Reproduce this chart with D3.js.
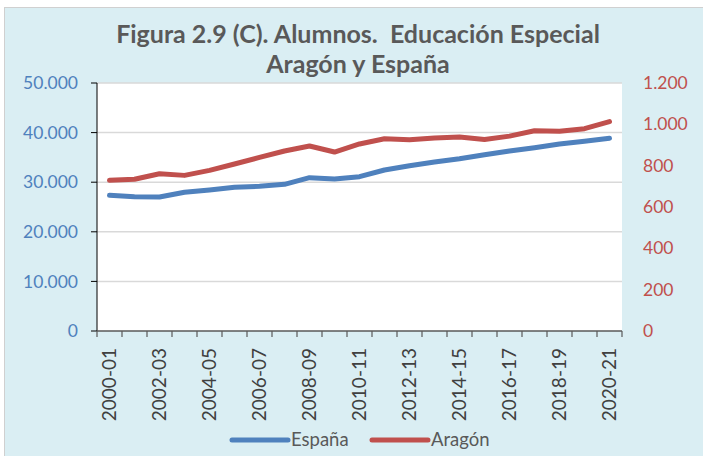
<!doctype html>
<html>
  <head>
    <meta charset="utf-8">
    <title>Alumnos Educación Especial</title>
    <style>
      body { margin: 0; background: #fff; }
      svg { display: block; }
      text { font-family: "Lato", "Open Sans", sans-serif; }
    </style>
  </head>
  <body>
    <div id="chart"></div>
    <script src="https://d3js.org/d3.v7.min.js"></script>
    <script>
      var categories = ["2000-01", "2001-02", "2002-03", "2003-04", "2004-05", "2005-06", "2006-07",
        "2007-08", "2008-09", "2009-10", "2010-11", "2011-12", "2012-13", "2013-14", "2014-15",
        "2015-16", "2016-17", "2017-18", "2018-19", "2019-20", "2020-21"];
      var espana = [27360, 27080, 27020, 27960, 28430, 28970, 29170, 29570, 30910, 30650, 31110,
        32460, 33330, 34070, 34740, 35550, 36290, 36960, 37700, 38250, 38850];
      var aragon = [729, 734, 761, 753, 777, 808, 840, 871, 895, 866, 905,
        930, 925, 934, 939, 927, 943, 969, 966, 979, 1013];
      var leftTicks = [0, 10000, 20000, 30000, 40000, 50000];
      var rightTicks = [0, 200, 400, 600, 800, 1000, 1200];
      var titleLines = ["Figura 2.9 (C). Alumnos.\u00a0 Educación Especial", "Aragón y España"];
      var seriesNames = ["España", "Aragón"];

      var width = 703, height = 456;
      var plot = { left: 97, right: 622, top: 83, bottom: 331 };
      var blue = "#4F81BD", red = "#C0504D";

      var es = d3.formatLocale({ decimal: ",", thousands: ".", grouping: [3], currency: ["", "€"] });
      var fmt = es.format(",");

      var svg = d3.select("#chart").append("svg")
        .attr("width", width)
        .attr("height", height);

      // outer frame
      svg.append("rect").attr("x", 4.5).attr("y", 7.5).attr("width", width - 4).attr("height", height - 7)
        .attr("fill", "#DAEEF3").attr("stroke", "#D0D0D0");

      svg.append("rect")
        .attr("x", plot.left).attr("y", plot.top)
        .attr("width", plot.right - plot.left).attr("height", plot.bottom - plot.top)
        .attr("fill", "#fff");

      var x = d3.scaleBand().domain(categories).range([plot.left, plot.right]);
      var yL = d3.scaleLinear().domain([0, 50000]).range([plot.bottom, plot.top]);
      var yR = d3.scaleLinear().domain([0, 1200]).range([plot.bottom, plot.top]);

      // gridlines
      svg.append("g").selectAll("line")
        .data(leftTicks.filter(function(d) { return d > 0; }))
        .enter().append("line")
        .attr("x1", plot.left).attr("x2", plot.right)
        .attr("y1", function(d) { return yL(d); }).attr("y2", function(d) { return yL(d); })
        .attr("stroke", "#D9D9D9").attr("stroke-width", 1.5);

      // left axis
      var gl = svg.append("g");
      gl.append("line").attr("x1", plot.left).attr("x2", plot.left)
        .attr("y1", plot.top).attr("y2", plot.bottom).attr("stroke", "#000").attr("stroke-width", 1);
      gl.selectAll(".tk").data(leftTicks).enter().append("line")
        .attr("x1", plot.left - 6).attr("x2", plot.left)
        .attr("y1", function(d) { return yL(d); }).attr("y2", function(d) { return yL(d); })
        .attr("stroke", "#000");
      gl.selectAll("text").data(leftTicks).enter().append("text")
        .attr("x", 78).attr("y", function(d) { return yL(d); })
        .attr("dy", "0.35em").attr("text-anchor", "end")
        .attr("font-size", 17.5).attr("fill", blue)
        .text(function(d) { return fmt(d); });

      // right axis labels
      svg.append("g").selectAll("text").data(rightTicks).enter().append("text")
        .attr("x", 643).attr("y", function(d) { return yR(d); })
        .attr("dy", "0.35em").attr("text-anchor", "start")
        .attr("font-size", 17.5).attr("fill", red)
        .text(function(d) { return fmt(d); });

      // x axis
      var gx = svg.append("g");
      gx.append("line").attr("x1", plot.left).attr("x2", plot.right)
        .attr("y1", plot.bottom).attr("y2", plot.bottom).attr("stroke", "#595959").attr("stroke-width", 1.5);
      var tickPos = categories.map(function(c) { return x(c); }).concat([plot.right]);
      gx.selectAll(".tk").data(tickPos).enter().append("line")
        .attr("x1", function(d) { return d; }).attr("x2", function(d) { return d; })
        .attr("y1", plot.bottom).attr("y2", plot.bottom + 6)
        .attr("stroke", "#595959").attr("stroke-width", 1.2);
      gx.selectAll("text").data(categories.filter(function(c, i) { return i % 2 === 0; }))
        .enter().append("text")
        .attr("transform", function(d) {
          return "translate(" + (x(d) + x.bandwidth() / 2) + "," + (plot.bottom + 17) + ") rotate(-90)";
        })
        .attr("dy", "0.35em").attr("text-anchor", "end")
        .attr("font-size", 19).attr("fill", "#404040")
        .text(function(d) { return d; });

      // lines
      var cx = function(d, i) { return x(categories[i]) + x.bandwidth() / 2; };
      svg.append("path").datum(espana)
        .attr("fill", "none").attr("stroke", blue).attr("stroke-width", 5)
        .attr("stroke-linecap", "round").attr("stroke-linejoin", "round")
        .attr("d", d3.line().x(cx).y(function(d) { return yL(d); }));
      svg.append("path").datum(aragon)
        .attr("fill", "none").attr("stroke", red).attr("stroke-width", 5)
        .attr("stroke-linecap", "round").attr("stroke-linejoin", "round")
        .attr("d", d3.line().x(cx).y(function(d) { return yR(d); }));

      // title
      svg.append("g").selectAll("text").data(titleLines).enter().append("text")
        .attr("x", 358).attr("y", function(d, i) { return 43 + i * 30; })
        .attr("text-anchor", "middle").attr("font-size", 25).attr("font-weight", "bold")
        .attr("fill", "#595959")
        .text(function(d) { return d; });

      // legend
      var legend = svg.append("g");
      var legX = [232, 372];
      [blue, red].forEach(function(col, i) {
        legend.append("line").attr("x1", legX[i]).attr("x2", legX[i] + 56)
          .attr("y1", 440).attr("y2", 440)
          .attr("stroke", col).attr("stroke-width", 5).attr("stroke-linecap", "round");
        legend.append("text").attr("x", legX[i] + 59).attr("y", 440).attr("dy", "0.35em")
          .attr("font-size", 18.5).attr("fill", "#595959").text(seriesNames[i]);
      });
    </script>
  </body>
</html>
